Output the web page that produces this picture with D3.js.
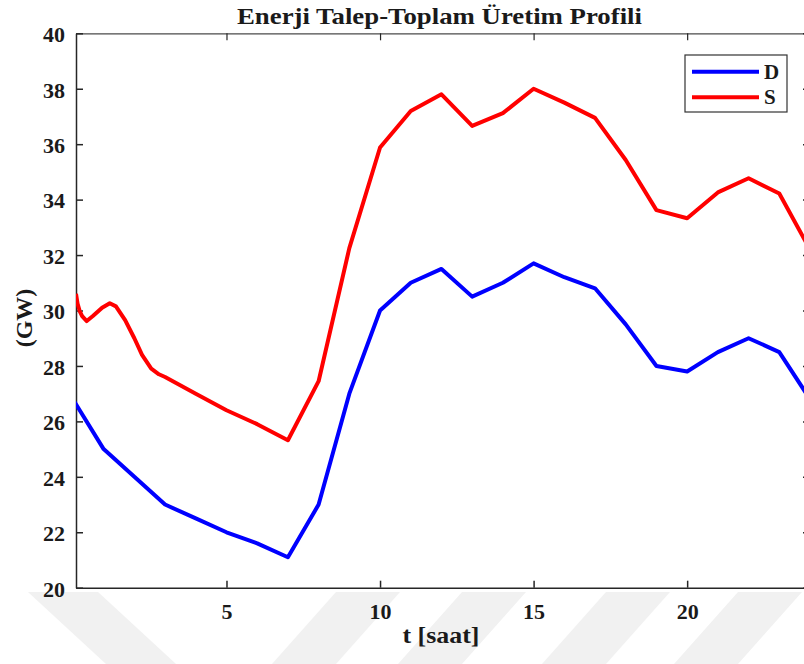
<!DOCTYPE html>
<html>
<head>
<meta charset="utf-8">
<script src="https://cdn.jsdelivr.net/npm/d3@7"></script>
<style>
  html, body { margin: 0; padding: 0; background: #ffffff; }
  svg { display: block; }
</style>
</head>
<body>
<div id="chart"></div>
<script>
// ---------------- data ----------------
const chartTitle = "Enerji Talep-Toplam Üretim Profili";
const xLabel = "t [saat]";
const yLabel = "(GW)";
const seriesNames = ["D", "S"];
const seriesColors = ["#0000ff", "#ff0000"];

const demandHours = [0, 1, 2, 3, 4, 5, 6, 7, 8, 9, 10, 11, 12, 13, 14, 15, 16, 17, 18, 19, 20, 21, 22, 23, 24];
const demandGW = [26.8, 25.0, 24.0, 23.0, 22.5, 22.0, 21.6, 21.1, 23.0, 27.0, 30.0, 31.0, 31.5, 30.5, 31.0, 31.7, 31.2, 30.8, 29.5, 28.0, 27.8, 28.5, 29.0, 28.5, 26.8];

const supplyHours = [0.1, 0.15, 0.22, 0.3, 0.45, 0.65, 0.95, 1.2, 1.4, 1.7, 2.0, 2.25, 2.55, 2.8, 3, 4, 5, 6, 7, 8, 9, 10, 11, 12, 13, 14, 15, 16, 17, 18, 19, 20, 21, 22, 23, 24];
const supplyGW = [30.6, 30.25, 29.98, 29.8, 29.62, 29.8, 30.1, 30.26, 30.15, 29.65, 29.0, 28.4, 27.9, 27.7, 27.6, 27.0, 26.4, 25.9, 25.32, 27.45, 32.25, 35.88, 37.2, 37.8, 36.66, 37.12, 38.0, 37.5, 36.95, 35.43, 33.62, 33.33, 34.26, 34.77, 34.22, 32.2];

const xDomain = [0.1, 24];
const yDomain = [20, 40];
const xTicks = [5, 10, 15, 20];
const yTicks = [20, 22, 24, 26, 28, 30, 32, 34, 36, 38, 40];

// ---------------- layout ----------------
const W = 804, H = 664;
const plot = { left: 76, right: 810, top: 33.3, bottom: 587.7 };
const axisColor = "#262626";
const textColor = "#1a1a1a";

const svg = d3.select("#chart").append("svg").attr("width", W).attr("height", H);

// pick an installed serif font (Times-like) by measuring against a fallback
function pickFont(candidates) {
  const probe = svg.append("text").attr("x", -1000).attr("y", -1000)
    .style("font-size", "40px").text("Enerji Talep-Toplam 0123456789 WMmil");
  probe.style("font-family", "monospace");
  const base = probe.node().getComputedTextLength();
  let chosen = "serif";
  for (const c of candidates) {
    probe.style("font-family", `"${c}", monospace`);
    const w = probe.node().getComputedTextLength();
    if (Math.abs(w - base) > 0.5) { chosen = `"${c}", serif`; break; }
  }
  probe.remove();
  return chosen;
}
const FONT = pickFont(["Liberation Serif", "Tinos", "Times New Roman", "Times", "Nimbus Roman", "DejaVu Serif", "Noto Serif", "FreeSerif"]);

function setFont(sel, size) {
  sel.style("font-family", FONT).style("font-weight", "bold")
     .style("font-size", size + "px").attr("fill", textColor);
  return sel;
}

// faint background watermark bands (decorative)
const wmTop = 592, wmBottom = H;
const wm = svg.append("g").attr("fill", "#f1f1f1");
const bandStartsSlash = [336, 462, 606, 738];
const bandWidth = 64, bandShift = 64;
bandStartsSlash.forEach(x0 => {
  wm.append("path").attr("d",
    `M${x0},${wmTop} L${x0 + bandWidth},${wmTop} L${x0 + bandWidth - bandShift},${wmBottom} L${x0 - bandShift},${wmBottom} Z`);
});
const bs = 28, bsW = 70, bsShift = 78;
wm.append("path").attr("d",
  `M${bs},${wmTop} L${bs + bsW},${wmTop} L${bs + bsW + bsShift},${wmBottom} L${bs + bsShift},${wmBottom} Z`);

const x = d3.scaleLinear().domain(xDomain).range([plot.left, plot.right]);
const y = d3.scaleLinear().domain(yDomain).range([plot.bottom, plot.top]);

svg.append("defs").append("clipPath").attr("id", "clip")
  .append("rect")
  .attr("x", plot.left).attr("y", plot.top)
  .attr("width", plot.right - plot.left).attr("height", plot.bottom - plot.top);

svg.append("rect")
  .attr("x", plot.left).attr("y", plot.top)
  .attr("width", plot.right - plot.left).attr("height", plot.bottom - plot.top)
  .attr("fill", "#ffffff");

// ---------------- axes ----------------
const tickLen = 7;
function styleAxis(g, width) {
  g.select(".domain").attr("stroke", axisColor).attr("stroke-width", width);
  g.selectAll(".tick line").attr("stroke", axisColor).attr("stroke-width", width);
  setFont(g.selectAll(".tick text"), 22);
}

const gx = svg.append("g").attr("transform", `translate(0,${plot.bottom})`)
  .call(d3.axisBottom(x).tickValues(xTicks).tickFormat(d3.format("d")).tickSizeInner(-tickLen).tickSizeOuter(0).tickPadding(16));
styleAxis(gx, 1.5);

const gxTop = svg.append("g").attr("transform", `translate(0,${plot.top})`)
  .call(d3.axisTop(x).tickValues(xTicks).tickFormat("").tickSizeInner(-tickLen).tickSizeOuter(0));
styleAxis(gxTop, 1.2);
gxTop.select(".domain").attr("stroke", "#4a4a4a");

const gy = svg.append("g").attr("transform", `translate(${plot.left},0)`)
  .call(d3.axisLeft(y).tickValues(yTicks).tickFormat(d3.format("d")).tickSizeInner(-tickLen).tickSizeOuter(0).tickPadding(11));
styleAxis(gy, 1.5);
gy.selectAll(".tick text").attr("dy", "0.38em");

const gyRight = svg.append("g").attr("transform", `translate(${plot.right},0)`)
  .call(d3.axisRight(y).tickValues(yTicks).tickFormat("").tickSizeInner(-tickLen).tickSizeOuter(0));
styleAxis(gyRight, 1.5);

// ---------------- lines ----------------
const line = d3.line().x(d => x(d[0])).y(d => y(d[1])).curve(d3.curveLinear);
const demandData = demandHours.map((h, i) => [h, demandGW[i]]);
const supplyData = supplyHours.map((h, i) => [h, supplyGW[i]]);

const lines = svg.append("g").attr("clip-path", "url(#clip)");
lines.append("path").datum(demandData)
  .attr("d", line).attr("fill", "none")
  .attr("stroke", seriesColors[0]).attr("stroke-width", 4).attr("stroke-linejoin", "round");
lines.append("path").datum(supplyData)
  .attr("d", line).attr("fill", "none")
  .attr("stroke", seriesColors[1]).attr("stroke-width", 4).attr("stroke-linejoin", "round");

// ---------------- texts ----------------
setFont(svg.append("text"), 24)
  .attr("x", 237).attr("y", 23.5)
  .attr("textLength", 405).attr("lengthAdjust", "spacingAndGlyphs")
  .text(chartTitle);

setFont(svg.append("text"), 24)
  .attr("x", 402.5).attr("y", 643)
  .attr("textLength", 77).attr("lengthAdjust", "spacingAndGlyphs")
  .text(xLabel);

setFont(svg.append("text"), 24)
  .attr("transform", `translate(32,318) rotate(-90)`)
  .attr("text-anchor", "middle")
  .text(yLabel);

// ---------------- legend ----------------
const legend = svg.append("g");
const lg = { x: 685, y: 55, w: 102, h: 57 };
legend.append("rect")
  .attr("x", lg.x).attr("y", lg.y).attr("width", lg.w).attr("height", lg.h)
  .attr("fill", "#ffffff").attr("stroke", "#333").attr("stroke-width", 1.2);
seriesNames.forEach((name, i) => {
  const ly = lg.y + 16.7 + i * 25.6;
  legend.append("line")
    .attr("x1", lg.x + 7).attr("x2", lg.x + 74)
    .attr("y1", ly).attr("y2", ly)
    .attr("stroke", seriesColors[i]).attr("stroke-width", 4);
  setFont(legend.append("text"), 21)
    .attr("x", lg.x + 79).attr("y", ly + 7)
    .text(name);
});
</script>
</body>
</html>
